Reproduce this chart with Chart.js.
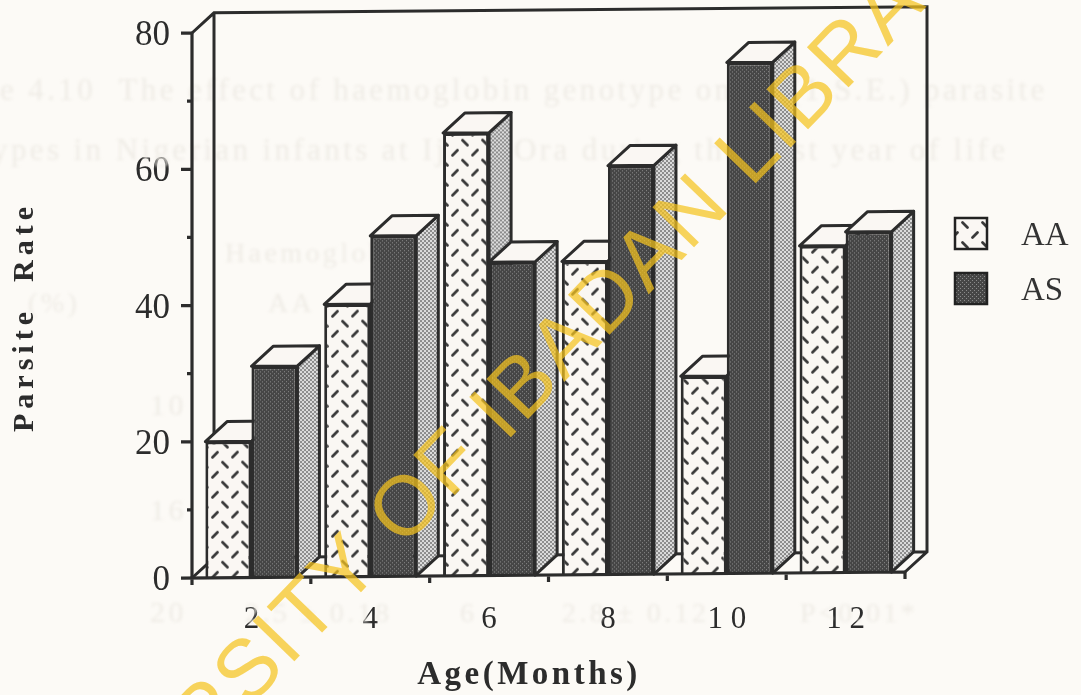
<!DOCTYPE html>
<html><head><meta charset="utf-8">
<style>html,body{margin:0;padding:0;background:#fcfaf6;overflow:hidden}#w{width:1081px;height:695px;position:relative}canvas{display:block}</style>
<script src="https://cdn.jsdelivr.net/npm/chart.js@4/dist/chart.umd.min.js"></script>
</head><body><div id="w"><canvas id="c" width="1081" height="695"></canvas></div>
<script>
const categories = ['2','4','6','8','1 0','1 2'];
const seriesAA = [20,40,65,46,29,48];
const seriesAS = [31,50,46,60,75,50];
const seriesNames = ['AA','AS'];
const yTickLabels = {0:'0',20:'20',40:'40',60:'60',80:'80'};
const xTitle = 'Age(Months)';
const yTitle = 'Parsite  Rate';
const watermark = 'UNIVERSITY OF IBADAN LIBRARY';
const ghostLines = [
 ['e 4.10  The effect of haemoglobin genotype on Pf (1.S.E.) parasite',0,100,31],
 ['types in Nigerian infants at Ijebu Ora during the first year of life',-20,160,31],
 ['Haemoglobin',225,262,28],['AA',268,312,28],['(%)',28,312,28],
 ['10',150,415,30],['16',150,520,30],['20',150,622,30],['2.5 ± 0.18',245,622,28],['6',460,622,28],['2.8 ± 0.12',562,622,28],['P<0.01*',800,622,28]
];
const INK='#2c2c2c', LIGHT='#faf7f3', DX=22, DY=20, SHEAR=-0.0084;
function tile(w,h,fn){const c=document.createElement('canvas');c.width=w;c.height=h;fn(c.getContext('2d'));return document.createElement('canvas').getContext('2d').createPattern(c,'repeat');}
const dashPat=tile(20,20,g=>{g.fillStyle=LIGHT;g.fillRect(0,0,20,20);g.strokeStyle='#3a3a3a';g.lineWidth=2.8;g.lineCap='round';
 g.beginPath();g.moveTo(2.5,2.5);g.lineTo(7.5,7.5);g.moveTo(12.5,17.5);g.lineTo(17.5,12.5);g.stroke();});
const darkPat=tile(4,4,g=>{g.fillStyle='#464646';g.fillRect(0,0,4,4);g.fillStyle='#8a8a8a';g.fillRect(0,0,1,1);g.fillRect(2,2,1,1);});
const sidePat=tile(4,4,g=>{g.fillStyle='#8c8c8c';g.fillRect(0,0,4,4);g.fillStyle='#dcdcdc';g.fillRect(0,0,2,2);g.fillRect(2,2,2,2);});
function poly(ctx,pts,fill){ctx.beginPath();pts.forEach((p,i)=>i?ctx.lineTo(p[0],p[1]):ctx.moveTo(p[0],p[1]));ctx.closePath();if(fill){ctx.fillStyle=fill;ctx.fill();}ctx.strokeStyle=INK;ctx.lineWidth=3;ctx.lineJoin='round';ctx.stroke();}
const wall={id:'wall',
 beforeDatasetsDraw(ch){const a=ch.chartArea,ctx=ch.ctx;ctx.save();
 ctx.save();ctx.textBaseline='alphabetic';ctx.textAlign='left';ctx.fillStyle='#efece6';ctx.filter='blur(1.4px)';ctx.letterSpacing='3.4px';
 ghostLines.forEach(l=>{ctx.font=l[3]+'px "Liberation Serif"';ctx.fillText(l[0],l[1],l[2]);});
 ctx.restore();
 ctx.translate(a.left,a.bottom);ctx.transform(1,SHEAR,0,1,0,0);ctx.translate(-a.left,-a.bottom);
 ctx.strokeStyle=INK;ctx.lineWidth=3;ctx.beginPath();
 ctx.moveTo(a.left,a.top);ctx.lineTo(a.left+DX,a.top-DY);ctx.lineTo(a.right+DX,a.top-DY);ctx.lineTo(a.right+DX,a.bottom-DY);ctx.lineTo(a.right,a.bottom);
 ctx.moveTo(a.left+DX,a.top-DY);ctx.lineTo(a.left+DX,a.bottom-DY);ctx.lineTo(a.right+DX,a.bottom-DY);
 ctx.moveTo(a.left+DX,a.bottom-DY);ctx.lineTo(a.left,a.bottom);ctx.stroke();
 [0,1].forEach(i=>{const m=ch.getDatasetMeta(i);m.data.forEach(b=>{b.draw(ctx,a);
  const p=b.getProps(['x','y','base','width'],true);const L=p.x-p.width/2,R=p.x+p.width/2,T=p.y,B=p.base;
  poly(ctx,[[R,T],[R+DX,T-DY],[R+DX,B-DY],[R,B]],sidePat);
  poly(ctx,[[L,T],[L+DX,T-DY],[R+DX,T-DY],[R,T]],LIGHT);
 });});
 ctx.strokeStyle=INK;ctx.lineWidth=3.2;ctx.beginPath();
 ctx.moveTo(a.left,a.top);ctx.lineTo(a.left,a.bottom);ctx.moveTo(a.left-11,a.bottom);ctx.lineTo(a.right,a.bottom);
 const y=ch.scales.y;y.ticks.forEach(t=>{const p=y.getPixelForValue(t.value),l=t.value%20===0?11:5;ctx.moveTo(a.left-l,p);ctx.lineTo(a.left,p);});
 const cw=a.width/categories.length;for(let i=0;i<=categories.length;i++){const px=ch.scales.x.getPixelForTick(0)-cw/2+i*cw;ctx.moveTo(px,a.bottom);ctx.lineTo(px,a.bottom+7);}
 ctx.stroke();ctx.restore();},
 beforeDatasetDraw(){return false;}};
const over={id:'over',afterDraw(ch){const ctx=ch.ctx;ctx.save();
 ctx.fillStyle=INK;ctx.textBaseline='middle';ctx.textAlign='center';
 ctx.font='bold 33px "Liberation Serif"';ctx.letterSpacing='3.5px';ctx.fillText(xTitle,529,675);
 ctx.save();ctx.translate(25,317);ctx.rotate(-Math.PI/2);ctx.font='bold 30px "Liberation Serif"';ctx.letterSpacing='5px';ctx.fillText(yTitle,0,0);ctx.restore();
 ctx.letterSpacing='0px';
 [[dashPat,0],[darkPat,1]].forEach(([pat,i])=>{const y=[218,273][i];ctx.fillStyle=pat;ctx.fillRect(955,y,32,31);ctx.strokeStyle='#222';ctx.lineWidth=2.5;ctx.strokeRect(955,y,32,31);
  ctx.fillStyle='#333';ctx.font='33px "Liberation Serif"';ctx.textAlign='left';ctx.fillText(seriesNames[i],1021,y+18);});
 ctx.restore();ctx.save();ctx.translate(498,417);ctx.rotate(-46*Math.PI/180);ctx.font='84px "Liberation Sans"';ctx.letterSpacing='2.5px';ctx.textAlign='center';ctx.textBaseline='middle';ctx.fillStyle='rgba(245,195,30,0.72)';ctx.fillText(watermark,0,0);ctx.restore();}};
new Chart(document.getElementById('c'),{type:'bar',
 data:{labels:categories,datasets:[
  {label:seriesNames[0],data:seriesAA,backgroundColor:dashPat,borderColor:INK,borderWidth:3},
  {label:seriesNames[1],data:seriesAS,backgroundColor:darkPat,borderColor:INK,borderWidth:3}]},
 options:{responsive:false,animation:false,
  layout:{padding:{left:0,right:176,top:33,bottom:0}},
  datasets:{bar:{categoryPercentage:0.775,barPercentage:1}},
  plugins:{legend:{display:false},tooltip:{enabled:false}},
  scales:{
   x:{afterFit(s){s.height=117;s.paddingLeft=0;s.paddingRight=0;},border:{display:false},grid:{display:false},
    ticks:{font:{family:'Liberation Serif',size:31},color:'#2c2c2c',padding:15,maxRotation:0}},
   y:{min:0,max:80,afterFit(s){s.width=192;s.paddingTop=0;s.paddingBottom=0;},border:{display:false},grid:{display:false},
    ticks:{stepSize:10,autoSkip:false,padding:14,labelOffset:3,font:{family:'Liberation Serif',size:35},color:'#2c2c2c',callback:v=>yTickLabels[v]??''}}
  }},plugins:[wall,over]});
</script></body></html>
